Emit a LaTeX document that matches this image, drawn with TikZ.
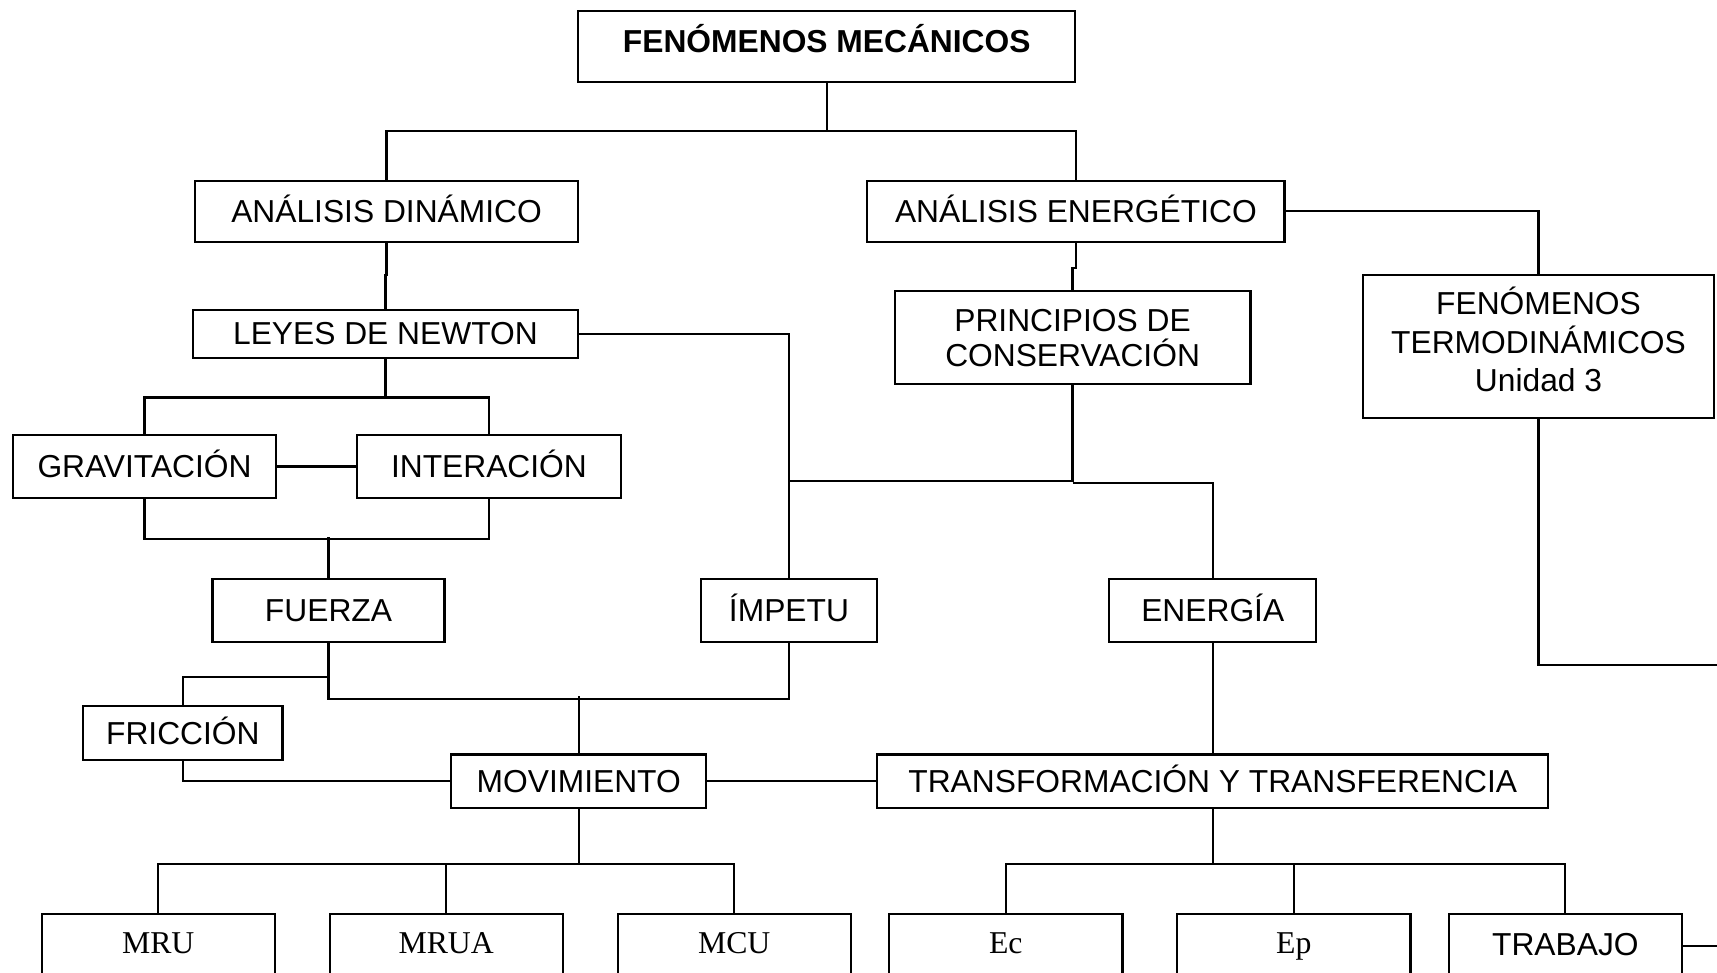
\documentclass[tikz,border=0pt]{standalone}
\usepackage{fontspec}
\setmainfont{Liberation Sans}
\newfontfamily\timesfont{Liberation Serif}
\usepackage{tikz}
\usetikzlibrary{positioning}

\begin{document}
\begin{tikzpicture}[x=1pt,y=-1pt,line width=2pt,
    box/.style={draw,rectangle,inner sep=0pt,font=\fontsize{29}{32}\selectfont,text height=20pt,text depth=0pt},
    tbox/.style={box,font=\fontsize{29}{32}\selectfont\timesfont},
    multi/.style={draw,rectangle,inner sep=0pt,align=center}]
  \useasboundingbox (0,0) rectangle (1568,888);
  \clip (0,0) rectangle (1568,888);

  			\node[box,font=\fontsize{29}{32}\selectfont\bfseries,text depth=9pt,minimum width=454pt,minimum height=65pt] (mec) at (755,42.5) {FENÓMENOS MECÁNICOS};
  			\node[box,minimum width=350pt,minimum height=56pt] (din) at (353,193) {ANÁLISIS DINÁMICO};
            \node[box,minimum width=381pt,minimum height=56pt] (ene) at (982.5,193) {ANÁLISIS ENERGÉTICO};
            \node[box,minimum width=352pt,minimum height=44pt] (newton) at (352,305) {LEYES DE NEWTON};
            \node[multi,font=\fontsize{29}{32}\selectfont,minimum width=325pt,minimum height=85pt] (cons) at (979.5,308.5) {PRINCIPIOS DE\\CONSERVACIÓN};
            \node[multi,font=\fontsize{29}{35}\selectfont,minimum width=320pt,minimum height=131pt] (termo) at (1405,316.5) {FEN\smash{Ó}MENOS\\TERMODINÁMICOS\\Unidad 3\\[-27pt]\mbox{}};
            \node[box,minimum width=240pt,minimum height=58pt] (grav) at (132,426) {GRAVITACIÓN};
            \node[box,minimum width=241pt,minimum height=58pt] (inter) at (446.5,426) {INTERACIÓN};
            \node[box,minimum width=212pt,minimum height=57pt] (fuerza) at (300,557.5) {FUERZA};
            \node[box,minimum width=161pt,minimum height=57pt] (impetu) at (720.5,557.5) {ÍMPETU};
            \node[box,minimum width=189pt,minimum height=57pt] (energia) at (1107.5,557.5) {ENERGÍA};
            \node[box,minimum width=182pt,minimum height=49pt] (fric) at (167,669.5) {FRICCIÓN};
            \node[box,minimum width=233pt,minimum height=49pt] (mov) at (528.5,713.5) {MOVIMIENTO};
            \node[box,minimum width=613pt,minimum height=49pt] (transf) at (1107.5,713.5) {TRANSFORMACIÓN Y TRANSFERENCIA};
            \node[tbox,text depth=6pt,minimum width=213pt,minimum height=58pt] (mru) at (144.5,864) {MRU};
            \node[tbox,text depth=6pt,minimum width=213pt,minimum height=58pt] (mrua) at (407.5,864) {MRUA};
            \node[tbox,text depth=6pt,minimum width=213pt,minimum height=58pt] (mcu) at (670.5,864) {MCU};
            \node[tbox,text depth=6pt,minimum width=213pt,minimum height=58pt] (ec) at (918.5,864) {Ec};
            \node[tbox,text depth=6pt,minimum width=213pt,minimum height=58pt] (ep) at (1181.5,864) {Ep};
            \node[box,text depth=2pt,minimum width=213pt,minimum height=58pt] (trab) at (1429.5,864) {TRABAJO};

  			\draw (mec.south) -- ++(0,44) coordinate (r1);
            \draw (r1) -| (din.north);
            \draw (r1) -| (ene.north);
            \draw (din.south) -- ++(0,29) -| (newton.north);
            \draw (ene.south) -- ++(0,23) -| (cons.north);
            \draw (ene.east) -| (termo.north);
            \draw (termo.south) |- (1600,607) |- (trab.east);
            \draw (newton.east) -| (impetu.north);
            \draw (cons.south) -- ++(0,87) coordinate (r2) -- (r2 -| impetu.north);
            \draw (r2) ++(0,2) -| (energia.north);
            \draw (newton.south) -- ++(0,35) coordinate (r3);
            \draw (r3) -| (grav.north);
            \draw (r3) -| (inter.north);
            \draw (grav.south) -- ++(0,36) -| (inter.south);
            \draw (fuerza.north) -- ++(0,-38);
            \draw (fuerza.south) -- ++(0,51) -| (impetu.south);
            \draw (fuerza.south) ++(0,31) -| (fric.north);
            \draw (mov.north) -- ++(0,-52);
            \draw (fric.south) |- (mov.west);
            \draw (mov.south) -- ++(0,50) coordinate (r4);
            \draw (r4) -| (mru.north);
            \draw (r4) -| (mrua.north);
            \draw (r4) -| (mcu.north);
            \draw (transf.south) -- ++(0,50) coordinate (r5);
            \draw (r5) -| (ec.north);
            \draw (r5) -| (ep.north);
            \draw (r5) -| (trab.north);

  			\path (grav) edge (inter)
                  (mov) edge (transf)
                  (energia) edge (transf);
		\end{tikzpicture}
\end{document}
